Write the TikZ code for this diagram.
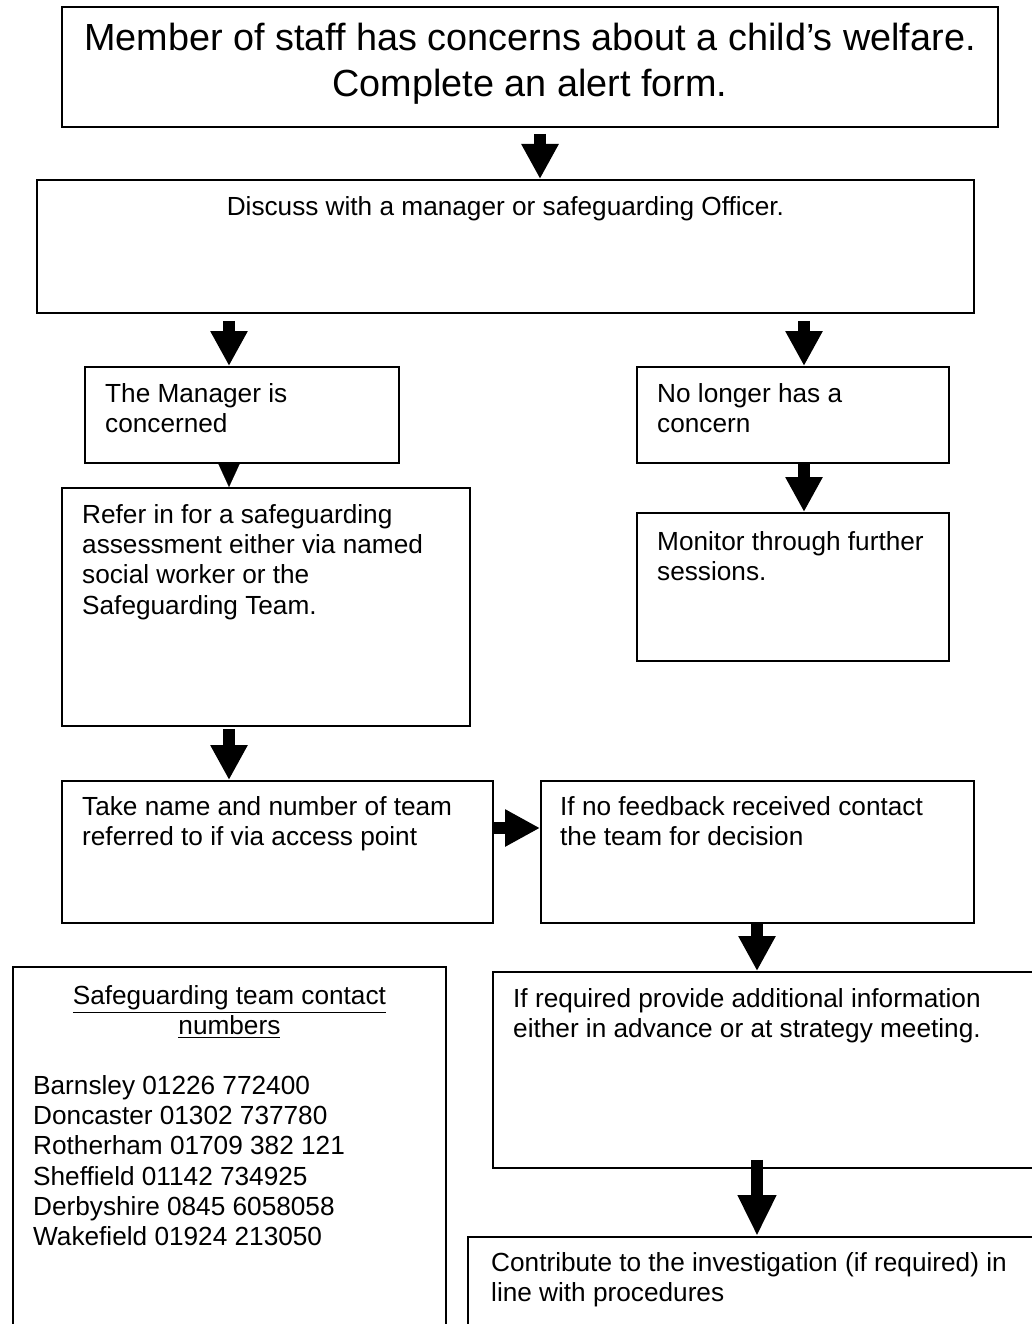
\documentclass[tikz,border=0pt]{standalone}
\usepackage{fontspec}
\setmainfont{Liberation Sans}
\usetikzlibrary{arrows.meta}
\newcommand\ulinethick[1]{\leavevmode\vtop{\hbox{#1}\kern2pt\hrule height 1.6pt}}
\begin{document}
\begin{tikzpicture}[x=1pt,y=-1pt,
  box/.style={draw, line width=1.8pt, inner sep=0pt, anchor=north west},
  txt/.style={inner sep=0pt, anchor=north west, align=left, font=\fontsize{26.2}{30.3}\selectfont, execute at begin node={\rule{0pt}{25pt}}},
  ctxt/.style={inner sep=0pt, anchor=north, align=center, font=\fontsize{26.2}{30.3}\selectfont, execute at begin node={\rule{0pt}{25pt}}},
  barrow/.style={line width=12pt, -{Triangle[width=35pt,length=35pt]}},
]
\useasboundingbox (0,0) rectangle (1032,1324);
\clip (0,0) rectangle (1032,1324);
% boxes
\node[box, minimum width=936pt, minimum height=120pt] (top) at (61,6) {};
\node[box, minimum width=937pt, minimum height=133pt] (disc) at (36,179) {};
\node[box, minimum width=314pt, minimum height=96pt] (mgr) at (84,366) {};
\node[box, minimum width=312pt, minimum height=96pt] (nolo) at (636,366) {};
\node[box, minimum width=408pt, minimum height=238pt] (refer) at (61,487) {};
\node[box, minimum width=312pt, minimum height=148pt] (mon) at (636,512) {};
\node[box, minimum width=431pt, minimum height=142pt] (take) at (61,780) {};
\node[box, minimum width=433pt, minimum height=142pt] (feed) at (540,780) {};
\node[box, minimum width=433pt, minimum height=380pt] (cont) at (12,966) {};
\node[box, minimum width=560pt, minimum height=196pt] (ifreq) at (492,971) {};
\node[box, minimum width=580pt, minimum height=110pt] (contr) at (467,1236) {};
% texts
\node[inner sep=0pt, anchor=north, align=center, font=\fontsize{37.8}{46}\selectfont] (topT)
  at ([yshift=-8pt]top.north) {\rule{0pt}{36pt}Member of staff has concerns about a child’s welfare.\\Complete an alert form.};
\node[ctxt] (discT) at ([yshift=-11pt]disc.north) {Discuss with a manager or safeguarding Officer.};
\node[txt] (mgrT) at ([xshift=21pt,yshift=-17pt]mgr.north west) {The Manager is\\concerned};
\node[txt] (noloT) at ([xshift=21pt,yshift=-17pt]nolo.north west) {No longer has a\\concern};
\node[txt] (referT) at ([xshift=21pt,yshift=-17pt]refer.north west) {Refer in for a safeguarding\\assessment either via named\\social worker or the\\Safeguarding Team.};
\node[txt] (monT) at ([xshift=21pt,yshift=-19pt]mon.north west) {Monitor through further\\sessions.};
\node[txt] (takeT) at ([xshift=21pt,yshift=-16pt]take.north west) {Take name and number of team\\referred to if via access point};
\node[txt] (feedT) at ([xshift=20pt,yshift=-16pt]feed.north west) {If no feedback received contact\\the team for decision};
\node[ctxt] (contH) at ([yshift=-19pt]cont.north) {\ulinethick{Safeguarding team contact}\\\ulinethick{numbers}};
\node[txt] (contT) at ([xshift=21pt,yshift=-109pt]cont.north west) {Barnsley 01226 772400\\Doncaster 01302 737780\\Rotherham 01709 382 121\\Sheffield 01142 734925\\Derbyshire 0845 6058058\\Wakefield 01924 213050};
\node[txt] (ifreqT) at ([xshift=21pt,yshift=-17pt]ifreq.north west) {If required provide additional information\\either in advance or at strategy meeting.};
\node[txt] (contrT) at ([xshift=24pt,yshift=-16pt]contr.north west) {Contribute to the investigation (if required) in\\line with procedures};
% arrow columns
\coordinate (xA) at (540,0);
\coordinate (xL) at (229,0);
\coordinate (xR) at (804,0);
\coordinate (xB) at (757,0);
\coordinate (yH) at (0,828);
% connectors
\draw[barrow] ([yshift=-6pt]top.south -| xA) -- (disc.north -| xA);
\draw[barrow] ([yshift=-7pt]disc.south -| xL) -- (mgr.north -| xL);
\draw[barrow] ([yshift=-7pt]disc.south -| xR) -- (nolo.north -| xR);
\draw[line width=0.1pt, -{Triangle[width=22pt,length=24pt]}] (mgr.south -| xL) -- (refer.north -| xL);
\draw[barrow] (nolo.south -| xR) -- (mon.north -| xR);
\draw[barrow] ([yshift=-2pt]refer.south -| xL) -- (take.north -| xL);
\draw[barrow] (take.east |- yH) -- (feed.west |- yH);
\draw[barrow] (feed.south -| xB) -- (ifreq.north -| xB);
\draw[barrow, -{Triangle[width=36pt,length=41pt]}] ([yshift=9pt]ifreq.south -| xB) -- (contr.north -| xB);
\end{tikzpicture}
\end{document}
